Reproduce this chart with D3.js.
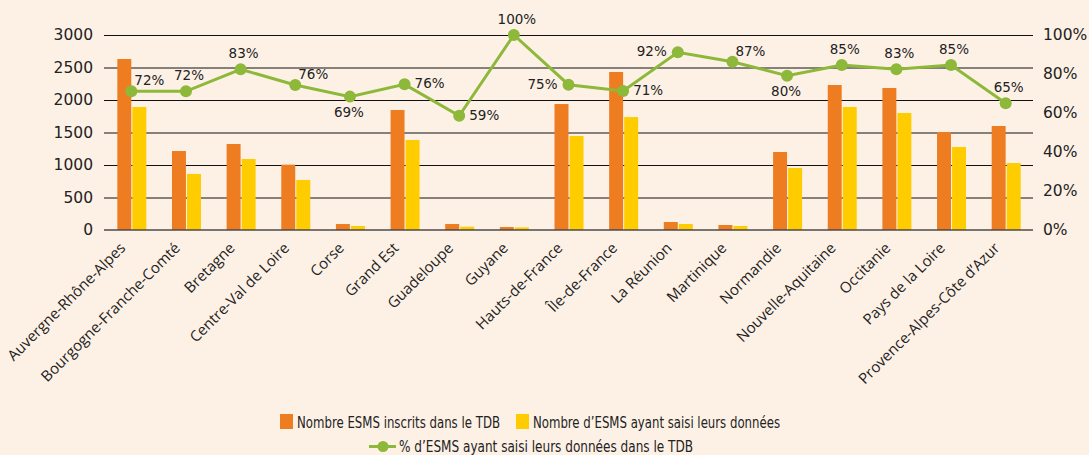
<!DOCTYPE html>
<html>
<head>
<meta charset="utf-8">
<script src="https://cdn.jsdelivr.net/npm/d3@7"></script>
<style>
  html, body { margin: 0; padding: 0; background: #fdf1e6; }
  svg { display: block; }
</style>
</head>
<body>
<script>
const regions = ["Auvergne-Rhône-Alpes", "Bourgogne-Franche-Comté", "Bretagne", "Centre-Val de Loire",
    "Corse", "Grand Est", "Guadeloupe", "Guyane", "Hauts-de-France", "Île-de-France", "La Réunion",
    "Martinique", "Normandie", "Nouvelle-Aquitaine", "Occitanie", "Pays de la Loire", "Provence-Alpes-Côte d’Azur"];
const inscrits = [2631, 1215, 1323, 1005, 92, 1846, 92, 46, 1938, 2431, 123, 77, 1200, 2231, 2185, 1508, 1600];
const saisis = [1892, 862, 1092, 769, 62, 1385, 50, 40, 1446, 1738, 92, 62, 954, 1892, 1800, 1277, 1031];
const pctValues = [71.1, 71.1, 82.4, 74.4, 68.4, 74.7, 58.6, 100, 74.5, 71.3, 91.1, 86.3, 79.1, 84.6, 82.4, 84.6, 65.0];
const pctLabels = ["72%", "72%", "83%", "76%", "69%", "76%", "59%", "100%", "75%", "71%", "92%", "87%", "80%", "85%", "83%", "85%", "65%"];
const labelPlacement = ["ne", "above", "above", "ne", "below", "right", "right", "above", "left", "right",
    "left", "ne", "below", "above", "above", "above", "above"];
const leftTicks = [0, 500, 1000, 1500, 2000, 2500, 3000];
const rightTicks = [0, 20, 40, 60, 80, 100];
const legendLabels = ["Nombre ESMS inscrits dans le TDB", "Nombre d’ESMS ayant saisi leurs données",
    "% d’ESMS ayant saisi leurs données dans le TDB"];

const width = 1089, height = 455;
const orange = "#ee7d22", yellow = "#ffcc00", green = "#8db83a", textColor = "#222";

const svg = d3.select("body").append("svg")
    .attr("width", width).attr("height", height);
svg.append("rect").attr("width", width).attr("height", height).attr("fill", "#fdf1e6");

const plot = { left: 104, right: 1033, top: 35, bottom: 230 };

const x = d3.scaleBand().domain(regions).range([plot.left, plot.right]);
const sub = d3.scaleBand().domain(["inscrits", "saisis"]).range([-14, 15]).paddingInner(0.07);
const yLeft = d3.scaleLinear().domain([0, 3000]).range([plot.bottom, plot.top]);
const yRight = d3.scaleLinear().domain([0, 100]).range([plot.bottom, plot.top]);

svg.append("g").selectAll("line")
    .data(leftTicks.filter(t => t > 0))
    .join("line")
    .attr("x1", plot.left).attr("x2", plot.right)
    .attr("y1", d => yLeft(d) + 0.5).attr("y2", d => yLeft(d) + 0.5)
    .attr("stroke", "#111").attr("stroke-width", 1);

const leftAxis = svg.append("g")
    .attr("transform", `translate(${plot.left},0)`)
    .call(d3.axisLeft(yLeft).tickValues(leftTicks).tickSize(0).tickPadding(11).tickFormat(d3.format("d")));
leftAxis.select(".domain").remove();
leftAxis.selectAll("text")
    .attr("font-family", "DejaVu Sans").attr("font-size", 15.5).attr("fill", textColor);

const rightAxis = svg.append("g")
    .attr("transform", `translate(${plot.right},0)`)
    .call(d3.axisRight(yRight).tickValues(rightTicks).tickSize(0).tickPadding(10).tickFormat(d => d + "%"));
rightAxis.select(".domain").remove();
rightAxis.selectAll("text")
    .attr("font-family", "DejaVu Sans").attr("font-size", 15.5).attr("fill", textColor);

const groups = svg.append("g").selectAll("g")
    .data(regions)
    .join("g")
    .attr("transform", d => `translate(${x(d) + x.bandwidth() / 2},0)`);

groups.append("rect")
    .attr("x", sub("inscrits")).attr("width", sub.bandwidth())
    .attr("y", (d, i) => yLeft(inscrits[i]))
    .attr("height", (d, i) => yLeft(0) - yLeft(inscrits[i]))
    .attr("fill", orange);

groups.append("rect")
    .attr("x", sub("saisis")).attr("width", sub.bandwidth())
    .attr("y", (d, i) => yLeft(saisis[i]))
    .attr("height", (d, i) => yLeft(0) - yLeft(saisis[i]))
    .attr("fill", yellow);

svg.append("line")
    .attr("x1", plot.left).attr("x2", plot.right)
    .attr("y1", yLeft(0)).attr("y2", yLeft(0))
    .attr("stroke", "#4a4a4a").attr("stroke-width", 1.5);

svg.append("g").selectAll("text")
    .data(regions)
    .join("text")
    .attr("transform", d => `translate(${x(d) + x.bandwidth() / 2 - 5},249) rotate(-45)`)
    .attr("text-anchor", "end")
    .attr("font-family", "Open Sans").attr("font-size", 15).attr("fill", textColor)
    .text(d => d);

const points = regions.map((r, i) => ({ x: x(r) + x.bandwidth() / 2, y: yRight(pctValues[i]) }));

svg.append("path")
    .datum(points)
    .attr("d", d3.line().x(d => d.x).y(d => d.y))
    .attr("fill", "none").attr("stroke", green).attr("stroke-width", 3);

svg.append("g").selectAll("circle")
    .data(points)
    .join("circle")
    .attr("cx", d => d.x).attr("cy", d => d.y).attr("r", 6)
    .attr("fill", green);

const placements = {
    above: { anchor: "middle", dx: 3, dy: -11 },
    below: { anchor: "middle", dx: -1, dy: 20 },
    right: { anchor: "start", dx: 10, dy: 4 },
    left: { anchor: "end", dx: -11, dy: 4 },
    ne: { anchor: "start", dx: 3, dy: -6 }
};

svg.append("g").selectAll("text")
    .data(points)
    .join("text")
    .attr("x", (d, i) => d.x + placements[labelPlacement[i]].dx)
    .attr("y", (d, i) => d.y + placements[labelPlacement[i]].dy)
    .attr("text-anchor", (d, i) => placements[labelPlacement[i]].anchor)
    .attr("font-family", "DejaVu Sans").attr("font-size", 13.5).attr("fill", textColor)
    .text((d, i) => pctLabels[i]);

const legendFont = "'Liberation Sans Narrow', 'DejaVu Sans Condensed', sans-serif";
const legend = svg.append("g");

legend.append("rect").attr("x", 280).attr("y", 414).attr("width", 13).attr("height", 15).attr("fill", orange);
legend.append("text").attr("x", 297).attr("y", 427.5)
    .attr("font-family", legendFont).attr("font-size", 16).attr("fill", textColor)
    .attr("textLength", 203).attr("lengthAdjust", "spacingAndGlyphs")
    .text(legendLabels[0]);

legend.append("rect").attr("x", 516).attr("y", 414).attr("width", 13).attr("height", 15).attr("fill", yellow);
legend.append("text").attr("x", 533).attr("y", 427.5)
    .attr("font-family", legendFont).attr("font-size", 16).attr("fill", textColor)
    .attr("textLength", 247).attr("lengthAdjust", "spacingAndGlyphs")
    .text(legendLabels[1]);

legend.append("line").attr("x1", 369).attr("x2", 396).attr("y1", 446.5).attr("y2", 446.5)
    .attr("stroke", green).attr("stroke-width", 3);
legend.append("circle").attr("cx", 383).attr("cy", 446.5).attr("r", 5.5).attr("fill", green);
legend.append("text").attr("x", 399).attr("y", 451.5)
    .attr("font-family", legendFont).attr("font-size", 16).attr("fill", textColor)
    .attr("textLength", 294).attr("lengthAdjust", "spacingAndGlyphs")
    .text(legendLabels[2]);
</script>
</body>
</html>
